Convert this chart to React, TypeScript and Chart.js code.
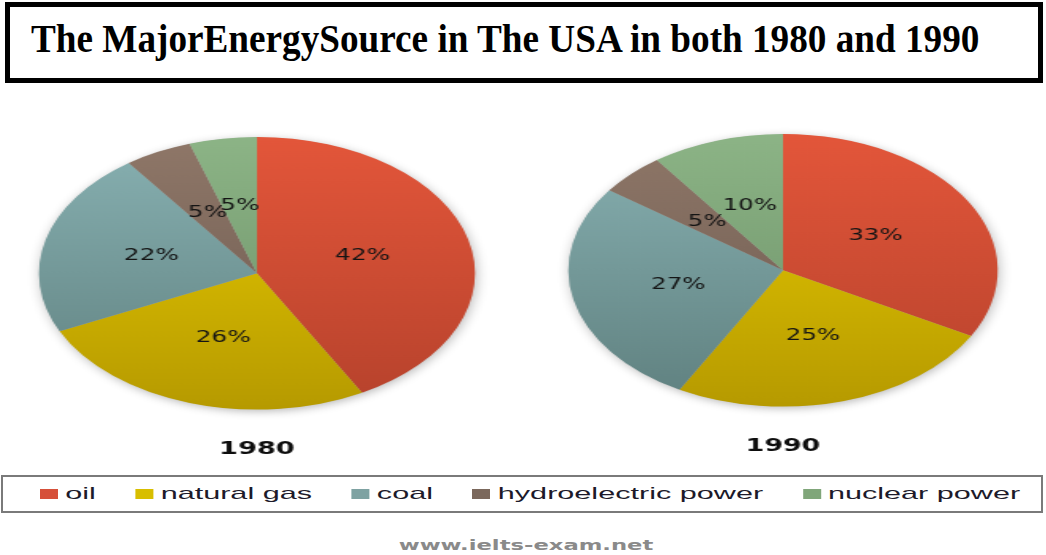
import React, { useEffect, useRef } from "react";
import { Chart, registerables } from "chart.js";

Chart.register(...registerables);

const categories = ["oil", "natural gas", "coal", "hydroelectric power", "nuclear power"];
const values1980 = [42, 26, 22, 5, 5];
const values1990 = [33, 25, 27, 5, 10];
const yearLabels = ["1980", "1990"];
const titleText = "The MajorEnergySource in The USA in both 1980 and 1990";
const watermark = "www.ielts-exam.net";

const topColors = ["#E3563A", "#EACD00", "#88B1B2", "#8F7768", "#8CB486"];
const bottomColors = ["#B6422C", "#B69A00", "#5F807F", "#6A594F", "#6A8E65"];
const legendColors = ["#D6503A", "#D8BE00", "#7EA2A2", "#7B685C", "#80A67A"];

const W = 320;
const H = 338;

function sliceFill(c: any) {
  const chart = c.chart;
  const area = chart.chartArea;
  const i = c.dataIndex;
  if (!area) return topColors[i];
  const g = chart.ctx.createLinearGradient(0, area.top, 0, area.bottom);
  g.addColorStop(0, topColors[i]);
  g.addColorStop(1, bottomColors[i]);
  return g;
}

const shadowPlugin = {
  id: "pieShadow",
  beforeDatasetsDraw(chart: any) {
    const meta = chart.getDatasetMeta(0);
    const arc = meta.data[0];
    if (!arc) return;
    const ctx = chart.ctx;
    ctx.save();
    ctx.shadowColor = "rgba(0,0,0,0.3)";
    ctx.shadowBlur = 8;
    ctx.shadowOffsetX = 1;
    ctx.shadowOffsetY = 2;
    ctx.beginPath();
    ctx.arc(arc.x, arc.y, arc.outerRadius - 0.5, 0, Math.PI * 2);
    ctx.fillStyle = "#aaa";
    ctx.fill();
    ctx.restore();
  },
};

const labelPlugin = {
  id: "pctLabels",
  afterDatasetsDraw(chart: any) {
    const meta = chart.getDatasetMeta(0);
    const data = chart.data.datasets[0].data;
    const ctx = chart.ctx;
    ctx.save();
    ctx.font = "15.5px 'DejaVu Sans'";
    ctx.fillStyle = "#141414";
    ctx.textAlign = "center";
    ctx.textBaseline = "middle";
    meta.data.forEach((arc: any, i: number) => {
      const p = arc.tooltipPosition(false);
      ctx.fillText(`${data[i]}%`, p.x, p.y);
    });
    ctx.restore();
  },
};

function PieChart(props: { values: number[]; year: string; centerX: number; top: number; stretch: number }) {
  const ref = useRef<HTMLCanvasElement>(null);
  useEffect(() => {
    if (!ref.current) return;
    const chart = new Chart(ref.current, {
      type: "pie",
      data: {
        labels: categories,
        datasets: [
          {
            data: props.values,
            backgroundColor: sliceFill as any,
            borderWidth: 0,
            hoverOffset: 0,
          },
        ],
      },
      options: {
        responsive: true,
        maintainAspectRatio: false,
        animation: false,
        events: [],
        layout: { padding: { top: 10, left: 10, right: 10, bottom: 0 } },
        plugins: {
          legend: { display: false },
          tooltip: { enabled: false },
          title: {
            display: true,
            text: props.year,
            position: "bottom",
            color: "#0d0d0d",
            font: { family: "'DejaVu Sans'", size: 17, weight: "bold" },
            padding: { top: 30, bottom: 5 },
          },
        },
      } as any,
      plugins: [shadowPlugin, labelPlugin],
    });
    return () => chart.destroy();
  }, []);
  return (
    <div
      style={{
        position: "absolute",
        left: props.centerX - W / 2,
        top: props.top,
        width: W,
        height: H,
        transform: `scaleX(${props.stretch})`,
        transformOrigin: "50% 50%",
      }}
    >
      <canvas ref={ref} />
    </div>
  );
}

export default function App() {
  return (
    <div
      style={{
        position: "fixed",
        left: 0,
        top: 0,
        width: 1046,
        height: 555,
        background: "#fff",
        overflow: "hidden",
      }}
    >
      <div
        style={{
          position: "absolute",
          left: 5,
          top: 2,
          width: 1038,
          height: 81,
          border: "5px solid #000",
          boxSizing: "border-box",
        }}
      />
      <div
        style={{
          position: "absolute",
          left: 31,
          top: 19,
          fontFamily: "'Liberation Serif', serif",
          fontWeight: "bold",
          fontSize: 40,
          lineHeight: "40px",
          whiteSpace: "nowrap",
          color: "#000",
          transform: "scaleX(0.93)",
          transformOrigin: "0 50%",
        }}
      >
        {titleText}
      </div>

      <PieChart values={values1980} year={yearLabels[0]} centerX={256.5} top={127} stretch={1.6} />
      <PieChart values={values1990} year={yearLabels[1]} centerX={783} top={124} stretch={1.575} />

      <div
        style={{
          position: "absolute",
          left: 1,
          top: 475,
          width: 1042,
          height: 38,
          border: "2px solid #7a7a7a",
          boxSizing: "border-box",
        }}
      />
      <div
        style={{
          position: "absolute",
          left: 40,
          top: 481,
          height: 26,
          display: "flex",
          alignItems: "center",
          gap: 22,
          whiteSpace: "nowrap",
          transform: "scaleX(1.8)",
          transformOrigin: "0 50%",
          fontFamily: "'Liberation Sans', sans-serif",
          fontSize: 17,
          color: "#1d1a2a",
        }}
      >
        {categories.map((c, i) => (
          <div key={c} style={{ display: "flex", alignItems: "center", gap: 4 }}>
            <span style={{ display: "inline-block", width: 10, height: 10, background: legendColors[i] }} />
            <span>{c}</span>
          </div>
        ))}
      </div>

      <div
        style={{
          position: "absolute",
          left: 526,
          top: 536,
          transform: "translateX(-50%) scaleX(1.62)",
          fontFamily: "'DejaVu Sans', sans-serif",
          fontWeight: "bold",
          fontSize: 14,
          lineHeight: "18px",
          color: "#8a8a8a",
          whiteSpace: "nowrap",
        }}
      >
        {watermark}
      </div>
    </div>
  );
}
